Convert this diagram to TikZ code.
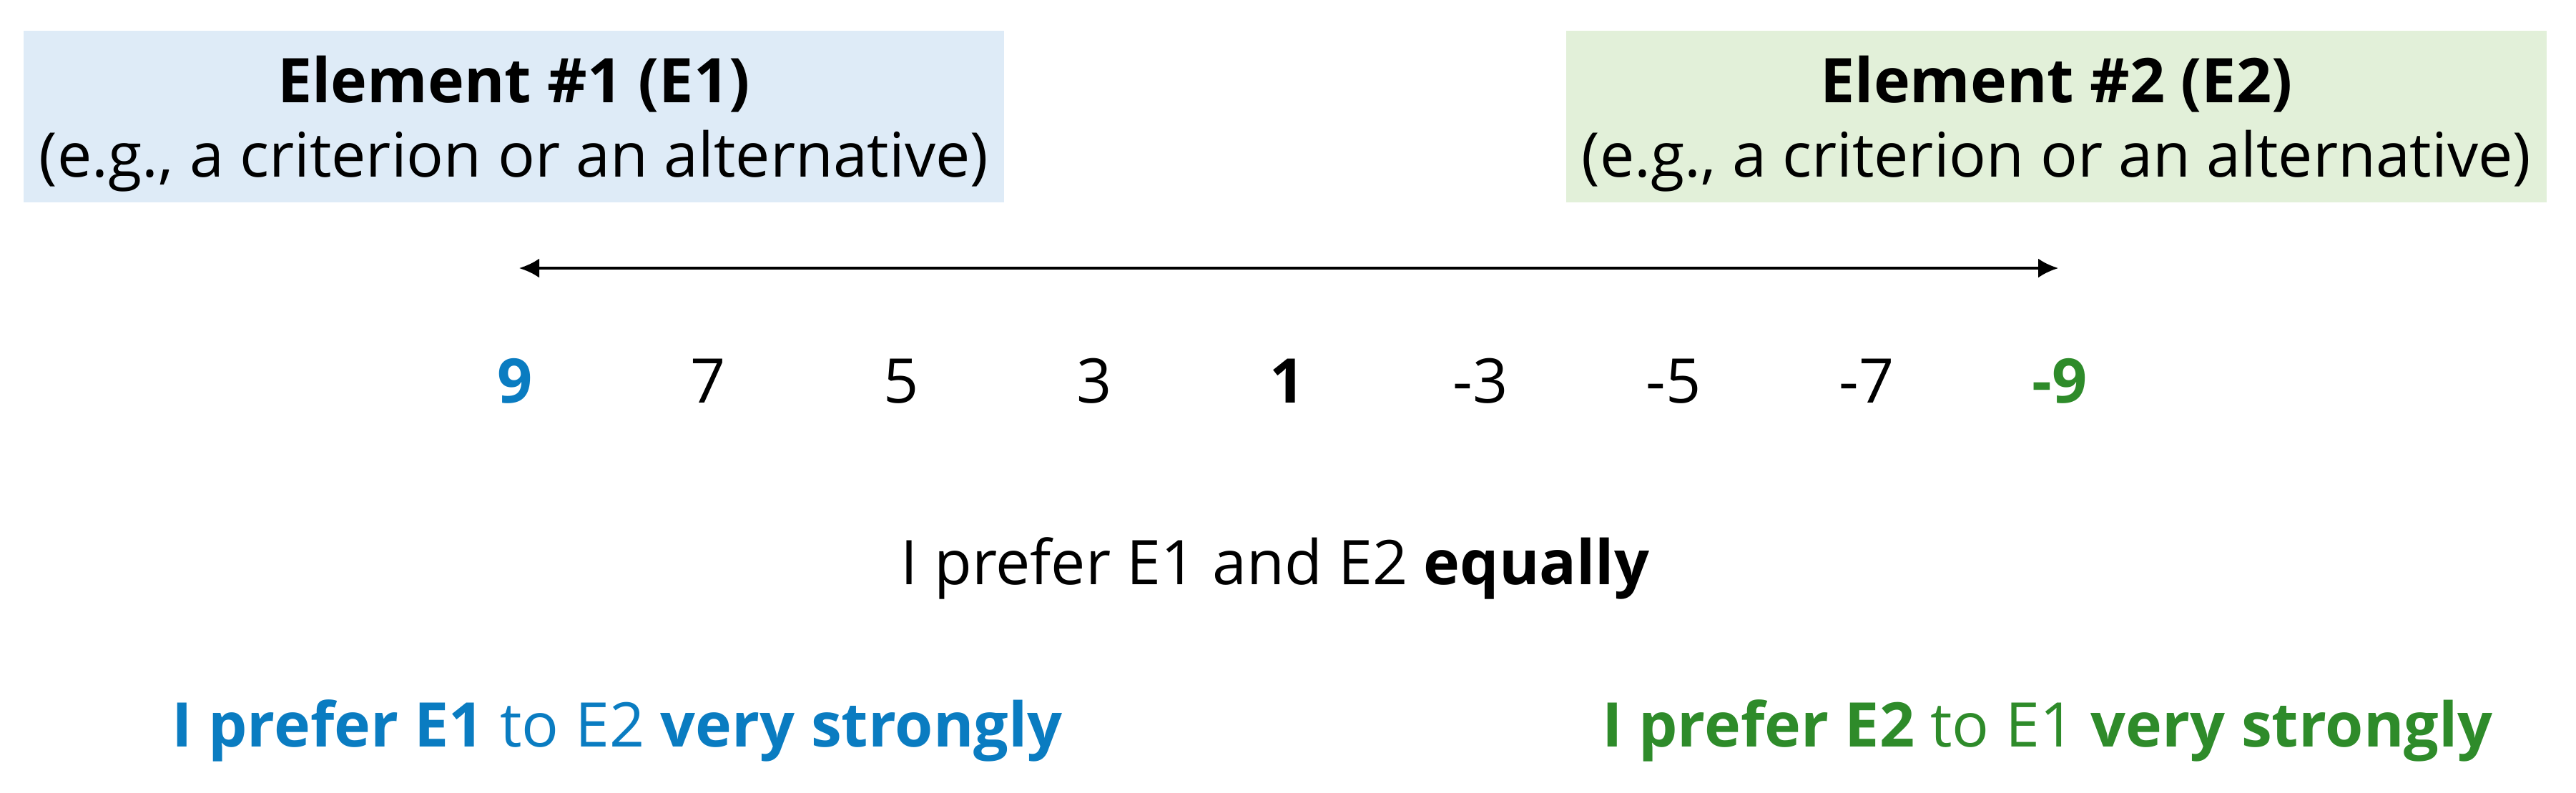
\documentclass[tikz,border=0pt]{standalone}
\usepackage{fontspec}
\setmainfont{Open Sans}
\usetikzlibrary{arrows.meta}
\definecolor{eblue}{HTML}{0A7CC1}
\definecolor{egreen}{HTML}{2E8B2A}
\definecolor{boxblue}{HTML}{DEEBF7}
\definecolor{boxgreen}{HTML}{E2F0D9}
\tikzset{
  elembox/.style={rectangle, minimum height=2.40cm, inner sep=0pt},
  label text/.style={anchor=base, inner sep=0pt, font=\fontsize{24.5}{29}\selectfont},
  scalenum/.style={label text}
}
\begin{document}
\begin{tikzpicture}
  \useasboundingbox (0,0) rectangle (36.02,-11.08);
  % Boxes
  \node (E1box) [elembox, fill=boxblue, minimum width=13.71cm] at (7.185,-1.63) {};
  \node (E2box) [elembox, fill=boxgreen, minimum width=13.71cm] at (28.755,-1.63) {};
  \node (E1title) [label text] at (7.185,-1.43) {\textbf{Element \#1 (E1)}};
  \node (E1sub) [label text] at (7.185,-2.47) {(e.g., a criterion or an alternative)};
  \node (E2title) [label text] at (28.755,-1.43) {\textbf{Element \#2 (E2)}};
  \node (E2sub) [label text] at (28.755,-2.47) {(e.g., a criterion or an alternative)};
  % Scale
  \node (n9) [scalenum, text=eblue] at (7.20,-5.63) {\textbf{9}};
  \node (n7) [scalenum] at (9.90,-5.63) {7};
  \node (n5) [scalenum] at (12.60,-5.63) {5};
  \node (n3) [scalenum] at (15.30,-5.63) {3};
  \node (n1) [scalenum] at (18.00,-5.63) {\textbf{1}};
  \node (m3) [scalenum] at (20.70,-5.63) {-3};
  \node (m5) [scalenum] at (23.40,-5.63) {-5};
  \node (m7) [scalenum] at (26.10,-5.63) {-7};
  \node (m9) [scalenum, text=egreen] at (28.80,-5.63) {\textbf{-9}};
  % Arrow
  \coordinate (left) at (7.26,-3.75);
  \coordinate (right) at (28.78,-3.75);
  \draw[{Latex[length=2.8mm,width=2.7mm]}-{Latex[length=2.8mm,width=2.7mm]}, line width=1pt] (left) -- (right);
  % Preferences
  \node (equal) [label text] at (17.83,-8.17) {I prefer E1 and E2 \textbf{equally}};
  \node (strongE1) [label text, text=eblue] at (8.63,-10.44) {\textbf{I prefer E1} to E2 \textbf{very strongly}};
  \node (strongE2) [label text, text=egreen] at (28.63,-10.44) {\textbf{I prefer E2} to E1 \textbf{very strongly}};
\end{tikzpicture}
\end{document}
